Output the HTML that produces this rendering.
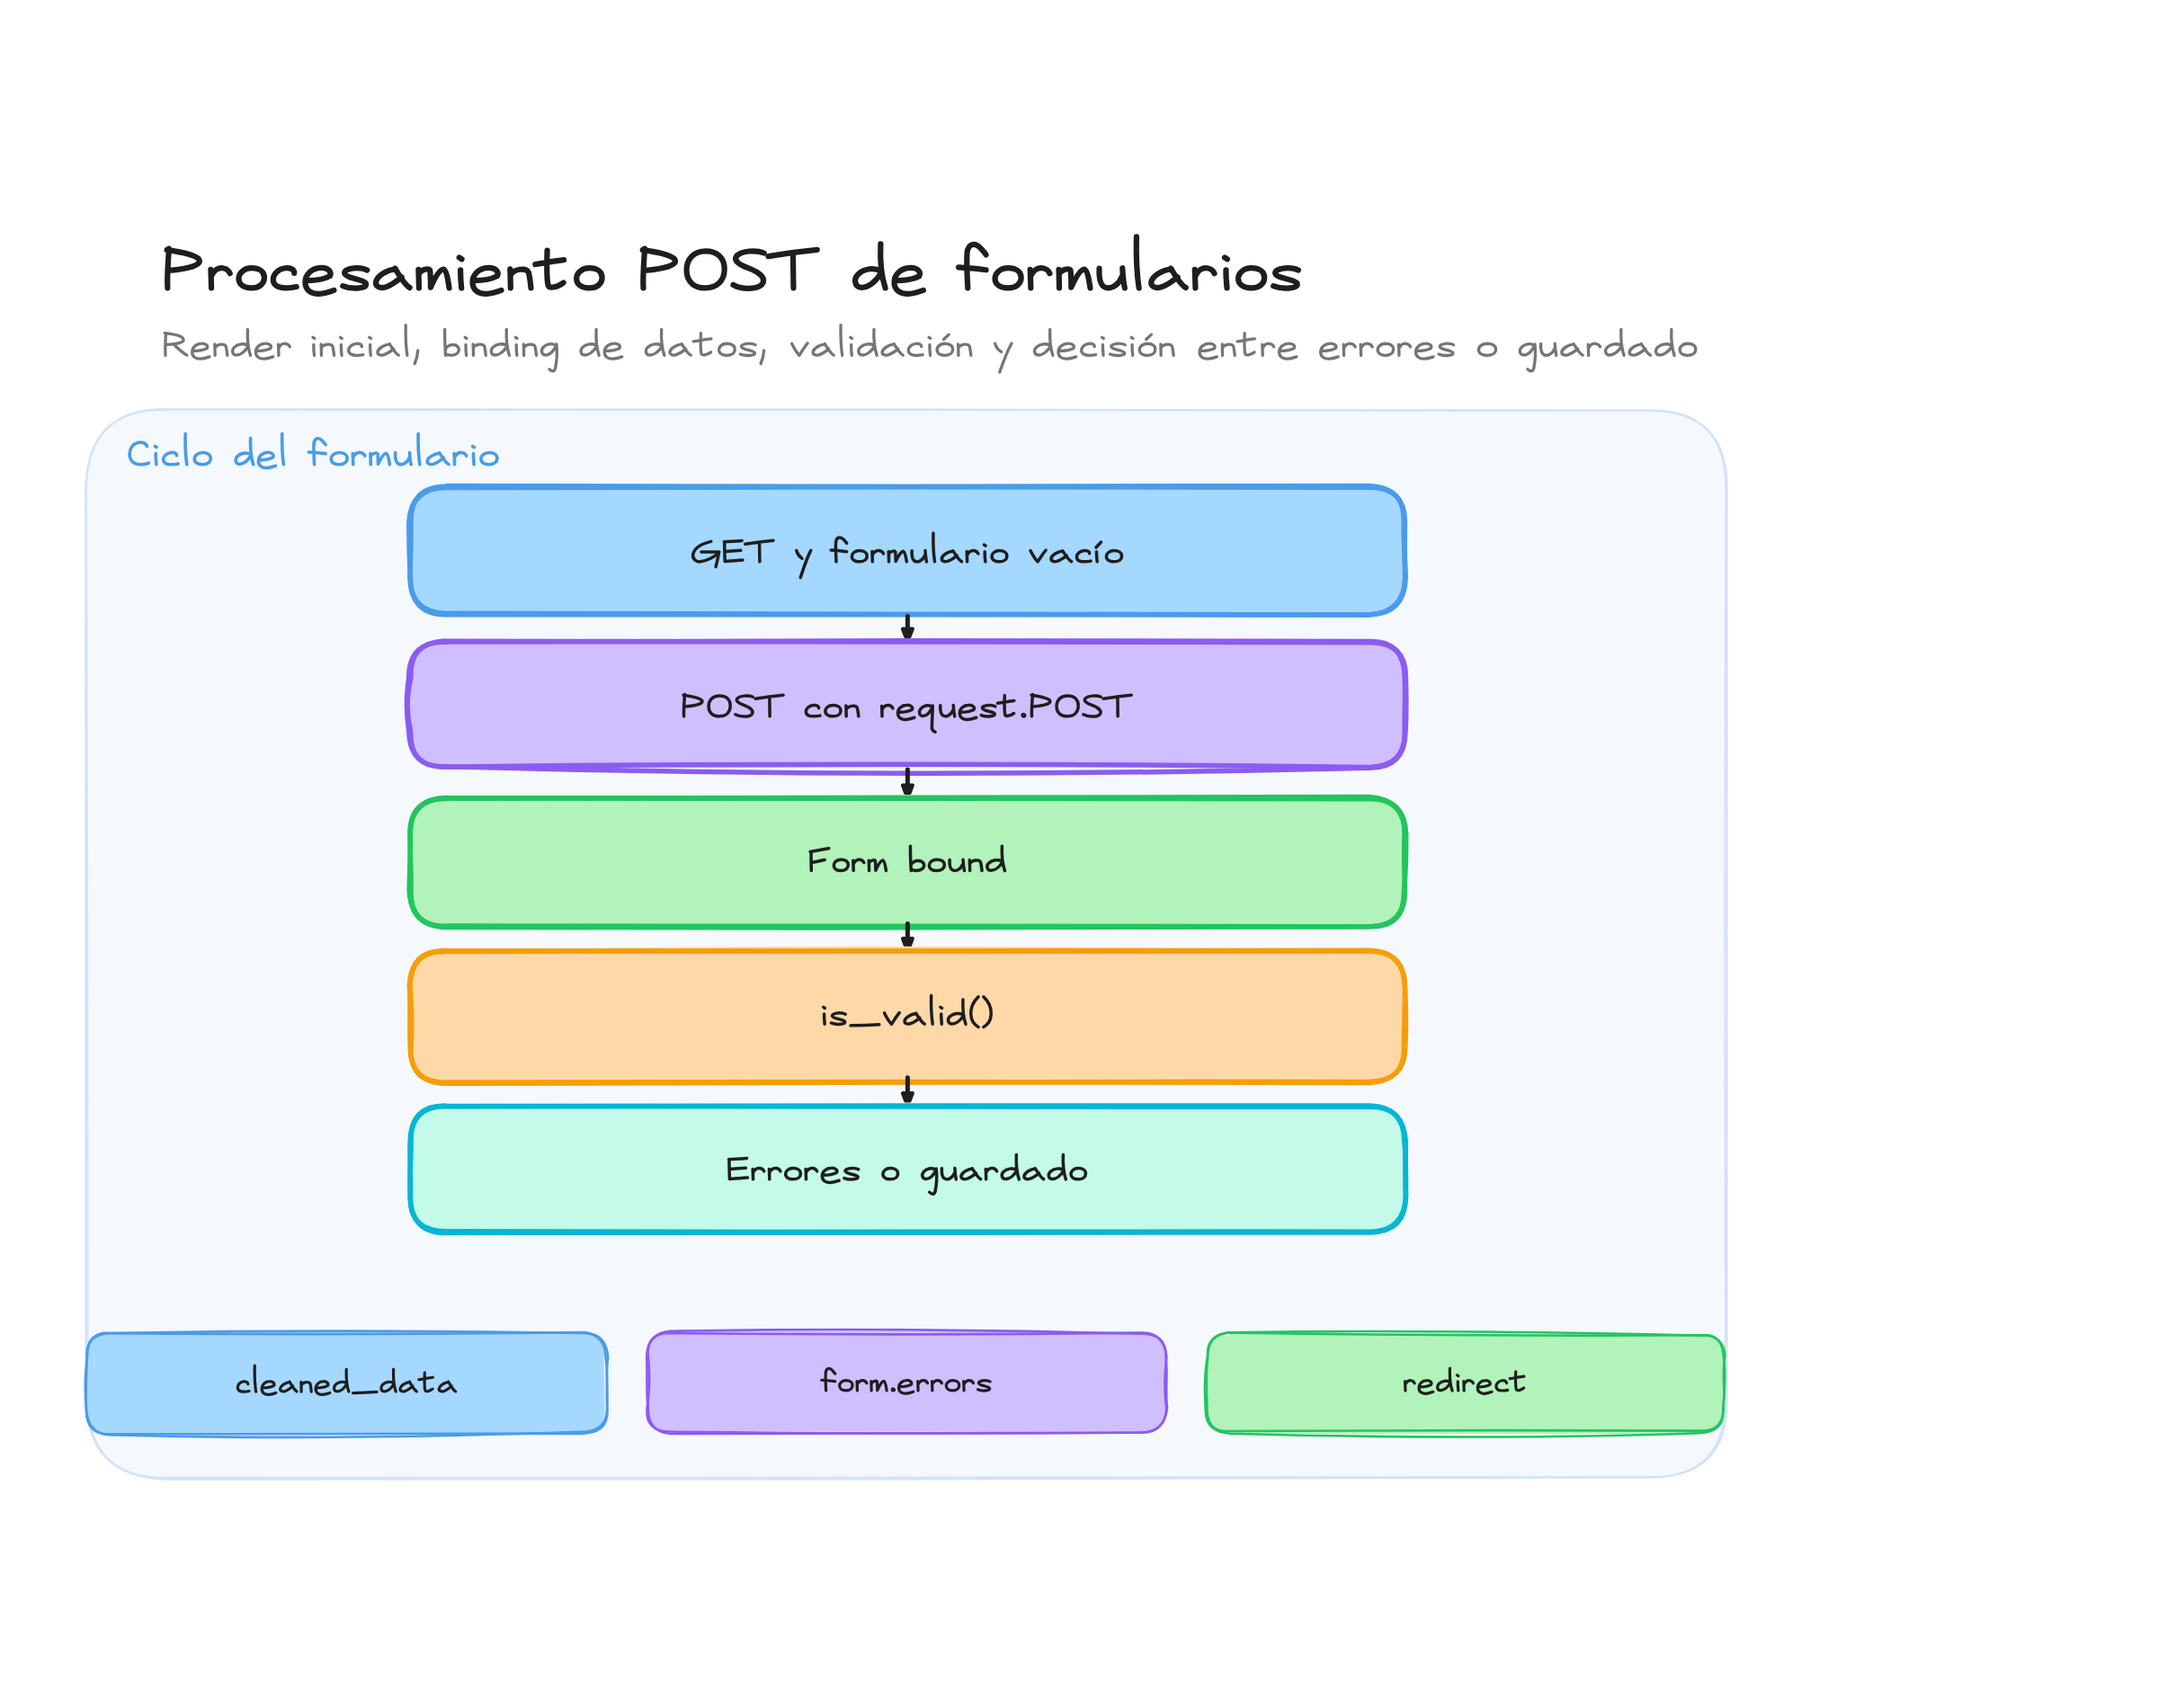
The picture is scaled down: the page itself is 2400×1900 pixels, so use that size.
<!DOCTYPE html>
<html><head><meta charset="utf-8"><style>
html,body{margin:0;padding:0;background:#ffffff;width:2400px;height:1900px;overflow:hidden}
svg{display:block}
text{font-family:"Liberation Sans", sans-serif;white-space:pre}
</style></head><body>
<svg width="2400" height="1900" viewBox="0 0 2400 1900">
<path d="M184.9,455.8 L1832.5,455.9 Q1920.5,455.9 1920.2,543.8 L1920.6,1556.3 Q1920.1,1643.8 1832.1,1644.3 L184.7,1643.5 Q97.0,1644.5 96.7,1556.1 L96.2,543.3 Q96.5,455.4 184.2,455.5 Z" fill="#f5f9fe" stroke="none"/><path d="M183.0,455.7 C732.8,455.5 1282.5,455.2 1832.3,456.9 Q1921.4,455.5 1920.6,544.2 C1919.5,881.7 1920.9,1219.1 1920.5,1556.5 Q1922.0,1645.1 1832.4,1643.3 C1283.6,1645.6 734.9,1645.7 186.1,1645.6 Q97.8,1643.9 97.6,1556.7 C98.5,1218.8 96.2,880.8 95.9,542.9 Q97.4,455.1 182.4,455.9" fill="none" stroke="#d0e3fa" stroke-width="2.2" stroke-linecap="round" stroke-linejoin="round"/><path d="M183.2,455.3 C733.4,454.6 1283.7,455.9 1834.0,456.6 Q1919.6,455.1 1919.3,543.0 C1917.8,880.2 1918.3,1217.4 1919.2,1554.6 Q1919.9,1645.2 1833.5,1643.0 C1283.9,1644.1 734.3,1643.9 184.7,1643.8 Q97.6,1644.5 95.5,1556.7 C94.2,1219.2 96.9,881.8 95.3,544.3 Q97.4,455.3 182.8,455.0" fill="none" stroke="#d0e3fa" stroke-width="2.2" stroke-linecap="round" stroke-linejoin="round"/>
<path d="M497.1,542.3 L1521.1,541.3 Q1563.4,541.2 1563.7,581.6 L1560.8,642.8 Q1560.7,684.7 1524.3,682.3 L495.2,684.1 Q454.8,681.7 454.8,642.4 L456.5,583.4 Q454.8,543.3 496.2,543.1 Z" fill="#a5d8ff" stroke="none"/><path d="M496.8,540.6 C838.8,540.8 1180.9,542.1 1522.9,540.5 Q1562.8,542.1 1561.2,581.2 C1561.0,601.9 1562.5,622.5 1563.2,643.2 Q1562.0,683.2 1521.7,683.9 C1180.2,683.3 838.6,683.3 497.1,682.3 Q456.9,682.6 455.9,643.4 C456.2,622.4 457.5,601.5 457.0,580.5 Q456.4,540.9 497.2,541.0" fill="none" stroke="#4a9be9" stroke-width="5.5" stroke-linecap="round" stroke-linejoin="round"/><path d="M496.9,542.6 C839.0,541.5 1181.0,541.7 1523.1,542.2 Q1562.8,541.9 1562.5,581.5 C1561.8,601.7 1562.4,621.9 1562.7,642.1 Q1562.1,681.7 1523.0,683.9 C1180.3,685.1 837.7,684.7 495.1,683.7 Q456.1,683.6 456.5,642.0 C455.0,622.0 455.0,601.8 454.8,581.7 Q456.6,541.8 497.4,542.5" fill="none" stroke="#4a9be9" stroke-width="5.5" stroke-linecap="round" stroke-linejoin="round"/>
<path d="M1009.4,685.5 L1009.4,700.5" stroke="#1e1e1e" stroke-width="5" stroke-linecap="round" fill="none"/>
<path d="M1003.9,699.5 L1014.9,699.5 L1011.7,708.0 L1007.1,708.0 Z" fill="#1e1e1e" stroke="#1e1e1e" stroke-width="4" stroke-linejoin="round"/>
<path d="M497.9,715.4 L1522.8,712.5 Q1562.4,714.4 1561.4,752.6 L1561.7,814.3 Q1561.3,855.4 1520.8,852.3 L494.4,854.6 Q455.5,853.4 455.3,814.0 L455.6,752.5 Q455.7,712.9 494.4,715.0 Z" fill="#d0bfff" stroke="none"/><path d="M496.5,714.1 C838.8,712.8 1181.2,712.2 1523.5,713.4 Q1561.7,712.6 1562.2,753.5 C1563.3,773.6 1561.6,793.8 1562.3,813.9 Q1563.1,853.1 1521.2,853.4 C1179.5,849.3 837.8,849.2 496.1,853.1 Q456.0,854.5 454.8,814.0 C451.7,794.0 451.7,773.9 454.7,753.9 Q454.7,712.6 496.7,714.3" fill="none" stroke="#8b5cf1" stroke-width="5.5" stroke-linecap="round" stroke-linejoin="round"/><path d="M494.8,713.3 C837.7,715.0 1180.7,713.1 1523.7,714.7 Q1563.7,714.7 1563.4,752.7 C1563.8,773.2 1564.5,793.7 1563.0,814.2 Q1562.6,854.0 1523.3,854.3 C1180.5,862.7 837.8,862.2 495.1,852.7 Q455.4,854.3 456.8,814.1 C451.8,793.9 451.9,773.7 457.0,753.6 Q455.0,715.0 494.5,713.0" fill="none" stroke="#8b5cf1" stroke-width="5.5" stroke-linecap="round" stroke-linejoin="round"/>
<path d="M1009.4,856.0 L1009.4,874.5" stroke="#1e1e1e" stroke-width="5" stroke-linecap="round" fill="none"/>
<path d="M1003.9,873.5 L1014.9,873.5 L1011.7,882.0 L1007.1,882.0 Z" fill="#1e1e1e" stroke="#1e1e1e" stroke-width="4" stroke-linejoin="round"/>
<path d="M494.7,888.6 L1521.1,888.2 Q1562.9,887.2 1563.0,928.0 L1560.7,991.1 Q1563.0,1031.1 1524.0,1031.9 L495.5,1029.9 Q454.5,1032.2 456.8,991.4 L455.8,927.7 Q454.9,887.8 494.6,888.2 Z" fill="#b2f2bb" stroke="none"/><path d="M496.3,888.1 C838.2,887.8 1180.0,887.0 1521.8,886.6 Q1562.9,888.7 1562.1,928.2 C1561.2,949.3 1561.9,970.5 1562.5,991.6 Q1562.4,1032.2 1522.3,1030.7 C1180.6,1030.7 838.8,1029.9 497.1,1030.1 Q457.0,1031.5 455.2,991.2 C455.3,970.0 456.8,948.8 456.3,927.5 Q456.3,887.8 496.4,888.6" fill="none" stroke="#22c55e" stroke-width="5.5" stroke-linecap="round" stroke-linejoin="round"/><path d="M497.2,887.8 C838.9,887.2 1180.6,888.2 1522.2,888.8 Q1561.6,887.6 1563.7,926.8 C1563.8,948.6 1563.5,970.3 1561.4,991.9 Q1562.2,1030.1 1523.5,1030.7 C1180.8,1032.2 838.1,1032.3 495.4,1031.5 Q455.8,1030.5 457.1,990.3 C457.4,969.5 456.0,948.8 455.9,928.1 Q455.5,888.3 497.0,887.4" fill="none" stroke="#22c55e" stroke-width="5.5" stroke-linecap="round" stroke-linejoin="round"/>
<path d="M1009.4,1027.5 L1009.4,1045.0" stroke="#1e1e1e" stroke-width="5" stroke-linecap="round" fill="none"/>
<path d="M1003.9,1044.0 L1014.9,1044.0 L1011.7,1052.5 L1007.1,1052.5 Z" fill="#1e1e1e" stroke="#1e1e1e" stroke-width="4" stroke-linejoin="round"/>
<path d="M496.9,1058.4 Q859.2,1047.5 1524.4,1057.3 Q1561.4,1055.8 1562.9,1096.0 L1562.0,1165.6 Q1564.0,1202.5 1520.8,1202.9 L497.3,1202.1 Q454.9,1202.4 454.5,1164.1 L454.7,1097.1 Q456.9,1058.4 495.7,1058.6 Z" fill="#ffd8a8" stroke="none"/><path d="M496.2,1058.4 C838.1,1057.3 1180.0,1057.5 1521.8,1057.2 Q1561.6,1057.3 1562.7,1098.7 C1563.5,1120.4 1564.1,1142.2 1562.8,1163.9 Q1563.6,1203.0 1521.9,1203.4 C1179.7,1203.0 837.5,1204.0 495.3,1205.3 Q454.9,1204.0 457.0,1165.0 C458.3,1142.7 457.9,1120.3 456.1,1098.0 Q456.5,1057.0 496.3,1058.6" fill="none" stroke="#f59e0b" stroke-width="5.5" stroke-linecap="round" stroke-linejoin="round"/><path d="M496.1,1057.8 C838.2,1058.2 1180.2,1058.6 1522.2,1058.3 Q1562.2,1057.4 1562.4,1098.1 C1562.6,1120.1 1561.5,1142.0 1561.4,1163.9 Q1563.0,1203.6 1521.3,1204.4 C1179.9,1203.7 838.4,1203.1 497.0,1204.1 Q456.1,1205.2 456.2,1164.3 C455.3,1142.0 456.9,1119.6 455.3,1097.2 Q456.8,1056.3 495.8,1057.6" fill="none" stroke="#f59e0b" stroke-width="5.5" stroke-linecap="round" stroke-linejoin="round"/>
<path d="M1009.4,1198.7 L1009.4,1217.0" stroke="#1e1e1e" stroke-width="5" stroke-linecap="round" fill="none"/>
<path d="M1003.9,1216.0 L1014.9,1216.0 L1011.7,1224.5 L1007.1,1224.5 Z" fill="#1e1e1e" stroke="#1e1e1e" stroke-width="4" stroke-linejoin="round"/>
<path d="M496.9,1229.3 L1524.3,1231.9 Q1561.8,1231.3 1563.7,1268.5 L1561.2,1332.6 Q1561.0,1371.6 1521.8,1371.6 L497.4,1371.3 Q455.6,1370.3 456.5,1331.5 L455.6,1270.3 Q456.1,1229.4 494.7,1230.7 Z" fill="#c3fae8" stroke="none"/><path d="M495.0,1230.7 C837.7,1232.2 1180.5,1232.6 1523.3,1231.3 Q1561.7,1230.5 1561.9,1270.2 C1563.9,1290.3 1563.4,1310.5 1563.6,1330.6 Q1561.6,1370.1 1523.8,1370.2 C1181.5,1369.7 839.2,1371.3 496.9,1369.8 Q455.1,1369.7 456.4,1331.8 C457.3,1311.4 455.4,1291.1 456.1,1270.7 Q456.6,1230.7 494.5,1230.8" fill="none" stroke="#06b6d4" stroke-width="5.5" stroke-linecap="round" stroke-linejoin="round"/><path d="M496.1,1230.5 C838.4,1230.2 1180.8,1229.9 1523.1,1229.9 Q1561.4,1230.6 1563.4,1270.9 C1563.1,1291.3 1562.4,1311.6 1563.4,1332.0 Q1562.8,1370.5 1523.4,1371.0 C1180.9,1371.0 838.5,1370.0 496.1,1371.6 Q456.4,1371.9 456.2,1329.8 C454.9,1309.7 457.4,1289.7 457.1,1269.6 Q455.6,1229.6 495.8,1230.1" fill="none" stroke="#06b6d4" stroke-width="5.5" stroke-linecap="round" stroke-linejoin="round"/>
<path d="M122.8,1481.4 L645.8,1481.7 Q676.7,1482.1 671.6,1509.1 L672.5,1565.6 Q673.2,1594.3 646.7,1596.6 L120.3,1595.7 Q94.6,1592.1 95.1,1569.6 L95.4,1510.4 Q93.2,1481.3 119.3,1483.5 Z" fill="#a5d8ff" stroke="none"/><path d="M122.8,1483.1 C298.4,1484.8 474.0,1484.4 649.7,1482.1 Q673.7,1484.9 673.5,1510.1 C676.7,1529.8 673.5,1549.8 675.5,1569.6 Q675.9,1594.7 647.2,1594.6 C471.7,1594.9 296.1,1595.1 120.6,1595.4 Q96.6,1595.3 95.8,1569.2 C95.0,1549.9 96.4,1530.6 96.5,1511.2 Q94.8,1484.1 122.1,1483.1" fill="none" stroke="#4a9be9" stroke-width="2.6" stroke-linecap="round" stroke-linejoin="round"/><path d="M119.8,1483.3 C295.6,1479.2 471.3,1480.1 647.1,1482.9 Q674.3,1481.9 676.2,1510.4 C673.1,1529.6 676.8,1548.8 675.0,1568.0 Q674.1,1592.8 647.1,1592.8 C472.0,1599.0 296.8,1601.1 121.7,1596.2 Q97.2,1594.9 96.3,1567.5 C93.7,1547.8 94.6,1528.1 97.2,1508.5 Q96.6,1483.3 119.2,1482.6" fill="none" stroke="#4a9be9" stroke-width="2.6" stroke-linecap="round" stroke-linejoin="round"/>
<path d="M742.5,1481.2 L1267.9,1481.5 Q1298.0,1483.7 1296.3,1510.0 L1296.2,1569.7 Q1297.2,1591.3 1270.9,1593.4 L745.7,1591.8 Q720.7,1591.6 718.3,1565.9 L718.1,1506.6 Q721.0,1483.5 742.7,1483.0 Z" fill="#d0bfff" stroke="none"/><path d="M744.0,1483.0 C919.4,1484.9 1094.8,1484.8 1270.2,1482.6 Q1294.7,1482.2 1297.4,1509.5 C1295.2,1528.6 1294.4,1547.7 1297.2,1566.8 Q1296.5,1592.6 1269.0,1593.8 C1094.6,1593.2 920.1,1593.5 745.6,1594.9 Q720.2,1592.9 720.9,1566.4 C718.3,1547.4 720.3,1528.3 719.2,1509.3 Q719.8,1482.8 744.4,1483.0" fill="none" stroke="#8b5cf1" stroke-width="2.6" stroke-linecap="round" stroke-linejoin="round"/><path d="M745.6,1480.7 C920.4,1477.8 1095.2,1478.8 1270.0,1483.8 Q1298.1,1484.2 1296.5,1509.5 C1299.2,1528.2 1295.6,1547.1 1298.1,1565.8 Q1295.1,1592.9 1271.3,1593.5 C1095.4,1595.1 919.6,1594.8 743.7,1592.5 Q717.8,1591.7 719.5,1567.4 C723.0,1547.6 722.7,1527.8 720.8,1508.0 Q718.8,1483.2 746.3,1480.5" fill="none" stroke="#8b5cf1" stroke-width="2.6" stroke-linecap="round" stroke-linejoin="round"/>
<path d="M1367.0,1482.2 L1893.1,1484.9 Q1918.6,1486.8 1917.1,1512.1 L1914.7,1567.2 Q1915.7,1593.0 1892.2,1595.1 L1367.6,1595.2 Q1340.5,1590.8 1341.3,1568.3 L1342.7,1507.2 Q1340.0,1482.5 1367.3,1486.2 Z" fill="#b2f2bb" stroke="none"/><path d="M1366.7,1482.4 C1542.1,1485.4 1717.5,1486.3 1892.9,1485.3 Q1916.8,1485.3 1918.5,1508.3 C1914.7,1527.4 1918.9,1546.7 1916.6,1565.8 Q1917.0,1591.4 1893.0,1591.6 C1717.4,1590.8 1541.8,1590.9 1366.2,1592.0 Q1341.6,1593.3 1342.5,1565.9 C1341.8,1547.0 1340.8,1528.2 1343.2,1509.3 Q1340.9,1485.7 1366.8,1482.1" fill="none" stroke="#22c55e" stroke-width="2.6" stroke-linecap="round" stroke-linejoin="round"/><path d="M1367.8,1482.3 C1543.0,1479.4 1718.1,1481.5 1893.1,1485.7 Q1916.2,1482.4 1917.1,1511.7 C1919.9,1530.7 1917.4,1549.6 1916.1,1568.5 Q1918.0,1592.9 1890.3,1594.3 C1716.3,1600.4 1542.2,1599.5 1368.1,1594.7 Q1340.1,1593.2 1340.8,1567.6 C1339.4,1547.8 1339.2,1528.2 1343.1,1508.7 Q1343.2,1484.0 1367.2,1482.5" fill="none" stroke="#22c55e" stroke-width="2.6" stroke-linecap="round" stroke-linejoin="round"/>
<g transform="translate(182.32,320.40) scale(0.07121,0.07200)" fill="none" stroke="#1e1e1e" stroke-width="6.20" stroke-linecap="round" stroke-linejoin="round"><path transform="translate(46,0) scale(1.0690,1) translate(-0.0,0)" d="M30,-608 C20,-400 0,-200 10,0 M0,-590 C180,-560 420,-520 470,-440 C510,-350 320,-300 30,-270" vector-effect="non-scaling-stroke"/><path transform="translate(731,0) scale(1.0000,1) translate(-0.0,0)" d="M0,-285C5,-184,8,-92,10,0M8,-184C50,-276,120,-319,190,-308C250,-299,285,-262,300,-225" vector-effect="non-scaling-stroke"/><path transform="translate(1168,0) scale(1.0000,1) translate(-0.0,0)" d="M200,-308C80,-308,0,-230,0,-147C0,-55,80,0,195,0C320,0,400,-64,400,-161C400,-253,320,-308,200,-308Z" vector-effect="non-scaling-stroke"/><path transform="translate(1705,0) scale(1.0000,1) translate(-0.0,0)" d="M330,-230C335,-290,260,-319,185,-308C75,-294,0,-211,0,-129C0,-41,85,0,200,0C260,0,310,-5,364,-18" vector-effect="non-scaling-stroke"/><path transform="translate(2206,0) scale(1.0000,1) translate(-0.0,0)" d="M30,-115C150,-115,300,-138,385,-184C425,-257,345,-319,245,-313C105,-308,0,-211,0,-92C0,40,100,95,220,90C300,85,380,60,450,35" vector-effect="non-scaling-stroke"/><path transform="translate(2793,0) scale(1.0556,1) translate(-5.0,0)" d="M365,-276C290,-319,150,-324,60,-276C0,-239,35,-193,115,-165L280,-115C385,-78,375,-14,245,0C160,10,80,0,5,-32" vector-effect="non-scaling-stroke"/><path transform="translate(3310,0) scale(1.0128,1) translate(-6.7,0)" d="M310,-294C180,-280,30,-193,8,-97C-5,-23,70,10,150,-11C240,-37,330,-106,405,-170M300,-303C380,-184,440,-55,528,-5" vector-effect="non-scaling-stroke"/><path transform="translate(3975,0) scale(1.0000,1) translate(-0.0,0)" d="M0,-285C5,-193,5,-92,8,0M8,-221C45,-285,150,-313,180,-276C190,-184,190,-92,190,-9C235,-110,320,-285,390,-290C435,-276,460,-138,480,0" vector-effect="non-scaling-stroke"/><path transform="translate(4612,0) scale(1.0000,1) translate(-0.0,0)" d="M20,-280C18,-184,25,-92,35,0M0,-472L40,-446" vector-effect="non-scaling-stroke"/><path transform="translate(4819,0) scale(1.0000,1) translate(-0.0,0)" d="M30,-115C150,-115,300,-138,385,-184C425,-257,345,-319,245,-313C105,-308,0,-211,0,-92C0,40,100,95,220,90C300,85,380,60,450,35" vector-effect="non-scaling-stroke"/><path transform="translate(5406,0) scale(1.0000,1) translate(-0.0,0)" d="M0,-294C5,-202,5,-92,8,0M8,-202C60,-294,250,-324,290,-239C310,-156,318,-74,326,0" vector-effect="non-scaling-stroke"/><path transform="translate(5799,0) scale(1.0000,1) translate(-0.0,0)" d="M187,-582C180,-377,180,-138,200,-46C215,10,330,0,440,-83M0,-366C150,-387,300,-419,447,-435" vector-effect="non-scaling-stroke"/><path transform="translate(6443,0) scale(1.0000,1) translate(-0.0,0)" d="M200,-308C80,-308,0,-230,0,-147C0,-55,80,0,195,0C320,0,400,-64,400,-161C400,-253,320,-308,200,-308Z" vector-effect="non-scaling-stroke"/></g>
<g transform="translate(711.42,320.40) scale(0.07138,0.07200)" fill="none" stroke="#1e1e1e" stroke-width="6.20" stroke-linecap="round" stroke-linejoin="round"><path transform="translate(46,0) scale(1.0690,1) translate(-0.0,0)" d="M30,-608 C20,-400 0,-200 10,0 M0,-590 C180,-560 420,-520 470,-440 C510,-350 320,-300 30,-270" vector-effect="non-scaling-stroke"/><path transform="translate(731,0) scale(1.0000,1) translate(-0.0,0)" d="M295,-570 C115,-570 0,-450 0,-280 C0,-100 115,0 285,0 C470,0 590,-110 590,-295 C590,-470 470,-570 295,-570 Z" vector-effect="non-scaling-stroke"/><path transform="translate(1458,0) scale(1.0301,1) translate(-0.0,0)" d="M465,-540 C350,-590 130,-580 50,-495 C0,-425 90,-360 225,-310 C405,-240 505,-150 435,-55 C355,30 110,20 0,-50" vector-effect="non-scaling-stroke"/><path transform="translate(2004,0) scale(1.0000,1) translate(-0.0,0)" d="M0,-490 C240,-530 500,-565 760,-590 M385,-545 C388,-360 388,-180 392,0" vector-effect="non-scaling-stroke"/></g>
<g transform="translate(947.79,320.40) scale(0.07205,0.07200)" fill="none" stroke="#1e1e1e" stroke-width="6.20" stroke-linecap="round" stroke-linejoin="round"><path transform="translate(46,0) scale(1.0401,1) translate(-17.9,0)" d="M390,-267C300,-319,150,-303,60,-211C-10,-138,10,-18,100,-9C210,0,330,-101,400,-230M395,-682C385,-440,400,-202,465,0" vector-effect="non-scaling-stroke"/><path transform="translate(648,0) scale(1.0000,1) translate(-0.0,0)" d="M30,-115C150,-115,300,-138,385,-184C425,-257,345,-319,245,-313C105,-308,0,-211,0,-92C0,40,100,95,220,90C300,85,380,60,450,35" vector-effect="non-scaling-stroke"/></g>
<g transform="translate(1062.75,320.40) scale(0.07285,0.07200)" fill="none" stroke="#1e1e1e" stroke-width="6.20" stroke-linecap="round" stroke-linejoin="round"><path transform="translate(46,0) scale(1.0000,1) translate(-0.0,0)" d="M140,0C130,-184,120,-409,130,-546C145,-684,240,-705,320,-631C360,-589,390,-557,418,-514M0,-319C130,-313,270,-299,418,-280" vector-effect="non-scaling-stroke"/><path transform="translate(601,0) scale(1.0000,1) translate(-0.0,0)" d="M200,-308C80,-308,0,-230,0,-147C0,-55,80,0,195,0C320,0,400,-64,400,-161C400,-253,320,-308,200,-308Z" vector-effect="non-scaling-stroke"/><path transform="translate(1138,0) scale(1.0000,1) translate(-0.0,0)" d="M0,-285C5,-184,8,-92,10,0M8,-184C50,-276,120,-319,190,-308C250,-299,285,-262,300,-225" vector-effect="non-scaling-stroke"/><path transform="translate(1575,0) scale(1.0000,1) translate(-0.0,0)" d="M0,-285C5,-193,5,-92,8,0M8,-221C45,-285,150,-313,180,-276C190,-184,190,-92,190,-9C235,-110,320,-285,390,-290C435,-276,460,-138,480,0" vector-effect="non-scaling-stroke"/><path transform="translate(2192,0) scale(0.9963,1) translate(1.4,0)" d="M0,-303C-5,-202,0,-83,60,-28C140,35,290,-18,350,-184M355,-308C360,-202,370,-92,390,0" vector-effect="non-scaling-stroke"/><path transform="translate(2759,0) scale(1.5078,1) translate(-8.5,0)" d="M10,-794C5,-483,12,-230,35,0" vector-effect="non-scaling-stroke"/><path transform="translate(2986,0) scale(1.0128,1) translate(-6.7,0)" d="M310,-294C180,-280,30,-193,8,-97C-5,-23,70,10,150,-11C240,-37,330,-106,405,-170M300,-303C380,-184,440,-55,528,-5" vector-effect="non-scaling-stroke"/><path transform="translate(3651,0) scale(1.0000,1) translate(-0.0,0)" d="M0,-285C5,-184,8,-92,10,0M8,-184C50,-276,120,-319,190,-308C250,-299,285,-262,300,-225" vector-effect="non-scaling-stroke"/><path transform="translate(4108,0) scale(1.0000,1) translate(-0.0,0)" d="M20,-280C18,-184,25,-92,35,0M0,-472L40,-446" vector-effect="non-scaling-stroke"/><path transform="translate(4315,0) scale(1.0000,1) translate(-0.0,0)" d="M200,-308C80,-308,0,-230,0,-147C0,-55,80,0,195,0C320,0,400,-64,400,-161C400,-253,320,-308,200,-308Z" vector-effect="non-scaling-stroke"/><path transform="translate(4852,0) scale(1.0556,1) translate(-5.0,0)" d="M365,-276C290,-319,150,-324,60,-276C0,-239,35,-193,115,-165L280,-115C385,-78,375,-14,245,0C160,10,80,0,5,-32" vector-effect="non-scaling-stroke"/></g>
<g transform="translate(181.38,395.35) scale(0.04280,0.04250)" fill="none" stroke="#757575" stroke-width="3.30" stroke-linecap="round" stroke-linejoin="round"><path transform="translate(46,0) scale(1.0000,1) translate(-0.0,0)" d="M25,-580 C15,-390 5,-200 15,0 M0,-580 C200,-560 440,-520 480,-430 C515,-340 330,-300 30,-280 M230,-290 C330,-190 440,-80 572,-5" vector-effect="non-scaling-stroke"/><path transform="translate(755,0) scale(1.0000,1) translate(-0.0,0)" d="M30,-115C150,-115,300,-138,385,-184C425,-257,345,-319,245,-313C105,-308,0,-211,0,-92C0,40,100,95,220,90C300,85,380,60,450,35" vector-effect="non-scaling-stroke"/><path transform="translate(1342,0) scale(1.0000,1) translate(-0.0,0)" d="M0,-294C5,-202,5,-92,8,0M8,-202C60,-294,250,-324,290,-239C310,-156,318,-74,326,0" vector-effect="non-scaling-stroke"/><path transform="translate(1805,0) scale(1.0401,1) translate(-17.9,0)" d="M390,-267C300,-319,150,-303,60,-211C-10,-138,10,-18,100,-9C210,0,330,-101,400,-230M395,-682C385,-440,400,-202,465,0" vector-effect="non-scaling-stroke"/><path transform="translate(2407,0) scale(1.0000,1) translate(-0.0,0)" d="M30,-115C150,-115,300,-138,385,-184C425,-257,345,-319,245,-313C105,-308,0,-211,0,-92C0,40,100,95,220,90C300,85,380,60,450,35" vector-effect="non-scaling-stroke"/><path transform="translate(2994,0) scale(1.0000,1) translate(-0.0,0)" d="M0,-285C5,-184,8,-92,10,0M8,-184C50,-276,120,-319,190,-308C250,-299,285,-262,300,-225" vector-effect="non-scaling-stroke"/></g>
<g transform="translate(345.91,395.35) scale(0.04429,0.04250)" fill="none" stroke="#757575" stroke-width="3.30" stroke-linecap="round" stroke-linejoin="round"><path transform="translate(46,0) scale(1.0000,1) translate(-0.0,0)" d="M20,-280C18,-184,25,-92,35,0M0,-472L40,-446" vector-effect="non-scaling-stroke"/><path transform="translate(253,0) scale(1.0000,1) translate(-0.0,0)" d="M0,-294C5,-202,5,-92,8,0M8,-202C60,-294,250,-324,290,-239C310,-156,318,-74,326,0" vector-effect="non-scaling-stroke"/><path transform="translate(736,0) scale(1.0000,1) translate(-0.0,0)" d="M20,-280C18,-184,25,-92,35,0M0,-472L40,-446" vector-effect="non-scaling-stroke"/><path transform="translate(943,0) scale(1.0000,1) translate(-0.0,0)" d="M330,-230C335,-290,260,-319,185,-308C75,-294,0,-211,0,-129C0,-41,85,0,200,0C260,0,310,-5,364,-18" vector-effect="non-scaling-stroke"/><path transform="translate(1464,0) scale(1.0000,1) translate(-0.0,0)" d="M20,-280C18,-184,25,-92,35,0M0,-472L40,-446" vector-effect="non-scaling-stroke"/><path transform="translate(1671,0) scale(1.0128,1) translate(-6.7,0)" d="M310,-294C180,-280,30,-193,8,-97C-5,-23,70,10,150,-11C240,-37,330,-106,405,-170M300,-303C380,-184,440,-55,528,-5" vector-effect="non-scaling-stroke"/><path transform="translate(2376,0) scale(1.5078,1) translate(-8.5,0)" d="M10,-794C5,-483,12,-230,35,0" vector-effect="non-scaling-stroke"/><path transform="translate(2603,0) scale(1.0000,1) translate(-0.0,0)" d="M80,-126 C72,-10 45,110 0,215" vector-effect="non-scaling-stroke"/></g>
<g transform="translate(492.65,395.35) scale(0.04349,0.04250)" fill="none" stroke="#757575" stroke-width="3.30" stroke-linecap="round" stroke-linejoin="round"><path transform="translate(46,0) scale(1.0460,1) translate(-10.0,0)" d="M10,-682C10,-430,15,-202,30,0M25,-156C80,-285,260,-324,340,-211C385,-120,320,-9,190,-5C110,0,60,-14,25,-37" vector-effect="non-scaling-stroke"/><path transform="translate(563,0) scale(1.0000,1) translate(-0.0,0)" d="M20,-280C18,-184,25,-92,35,0M0,-472L40,-446" vector-effect="non-scaling-stroke"/><path transform="translate(770,0) scale(1.0000,1) translate(-0.0,0)" d="M0,-294C5,-202,5,-92,8,0M8,-202C60,-294,250,-324,290,-239C310,-156,318,-74,326,0" vector-effect="non-scaling-stroke"/><path transform="translate(1233,0) scale(1.0401,1) translate(-17.9,0)" d="M390,-267C300,-319,150,-303,60,-211C-10,-138,10,-18,100,-9C210,0,330,-101,400,-230M395,-682C385,-440,400,-202,465,0" vector-effect="non-scaling-stroke"/><path transform="translate(1855,0) scale(1.0000,1) translate(-0.0,0)" d="M20,-280C18,-184,25,-92,35,0M0,-472L40,-446" vector-effect="non-scaling-stroke"/><path transform="translate(2062,0) scale(1.0000,1) translate(-0.0,0)" d="M0,-294C5,-202,5,-92,8,0M8,-202C60,-294,250,-324,290,-239C310,-156,318,-74,326,0" vector-effect="non-scaling-stroke"/><path transform="translate(2525,0) scale(1.1135,1) translate(-25.8,0)" d="M330,-276C250,-324,130,-303,60,-211C0,-129,20,-18,110,-9C210,0,320,-129,360,-276M365,-294C380,-138,380,100,340,330C320,420,280,440,200,360" vector-effect="non-scaling-stroke"/></g>
<g transform="translate(644.05,395.35) scale(0.04344,0.04250)" fill="none" stroke="#757575" stroke-width="3.30" stroke-linecap="round" stroke-linejoin="round"><path transform="translate(46,0) scale(1.0401,1) translate(-17.9,0)" d="M390,-267C300,-319,150,-303,60,-211C-10,-138,10,-18,100,-9C210,0,330,-101,400,-230M395,-682C385,-440,400,-202,465,0" vector-effect="non-scaling-stroke"/><path transform="translate(648,0) scale(1.0000,1) translate(-0.0,0)" d="M30,-115C150,-115,300,-138,385,-184C425,-257,345,-319,245,-313C105,-308,0,-211,0,-92C0,40,100,95,220,90C300,85,380,60,450,35" vector-effect="non-scaling-stroke"/></g>
<g transform="translate(716.32,395.35) scale(0.04413,0.04250)" fill="none" stroke="#757575" stroke-width="3.30" stroke-linecap="round" stroke-linejoin="round"><path transform="translate(46,0) scale(1.0401,1) translate(-17.9,0)" d="M390,-267C300,-319,150,-303,60,-211C-10,-138,10,-18,100,-9C210,0,330,-101,400,-230M395,-682C385,-440,400,-202,465,0" vector-effect="non-scaling-stroke"/><path transform="translate(648,0) scale(1.0128,1) translate(-6.7,0)" d="M310,-294C180,-280,30,-193,8,-97C-5,-23,70,10,150,-11C240,-37,330,-106,405,-170M300,-303C380,-184,440,-55,528,-5" vector-effect="non-scaling-stroke"/><path transform="translate(1243,0) scale(1.0000,1) translate(-0.0,0)" d="M187,-582C180,-377,180,-138,200,-46C215,10,330,0,440,-83M0,-366C150,-387,300,-419,447,-435" vector-effect="non-scaling-stroke"/><path transform="translate(1887,0) scale(1.0000,1) translate(-0.0,0)" d="M200,-308C80,-308,0,-230,0,-147C0,-55,80,0,195,0C320,0,400,-64,400,-161C400,-253,320,-308,200,-308Z" vector-effect="non-scaling-stroke"/><path transform="translate(2424,0) scale(1.0556,1) translate(-5.0,0)" d="M365,-276C290,-319,150,-324,60,-276C0,-239,35,-193,115,-165L280,-115C385,-78,375,-14,245,0C160,10,80,0,5,-32" vector-effect="non-scaling-stroke"/><path transform="translate(2941,0) scale(1.0000,1) translate(-0.0,0)" d="M80,-126 C72,-10 45,110 0,215" vector-effect="non-scaling-stroke"/></g>
<g transform="translate(878.64,395.35) scale(0.04374,0.04250)" fill="none" stroke="#757575" stroke-width="3.30" stroke-linecap="round" stroke-linejoin="round"><path transform="translate(46,0) scale(1.0000,1) translate(-0.0,0)" d="M0,-308C50,-202,120,-74,190,0C260,-110,320,-221,400,-319" vector-effect="non-scaling-stroke"/><path transform="translate(583,0) scale(1.0128,1) translate(-6.7,0)" d="M310,-294C180,-280,30,-193,8,-97C-5,-23,70,10,150,-11C240,-37,330,-106,405,-170M300,-303C380,-184,440,-55,528,-5" vector-effect="non-scaling-stroke"/><path transform="translate(1288,0) scale(1.5078,1) translate(-8.5,0)" d="M10,-794C5,-483,12,-230,35,0" vector-effect="non-scaling-stroke"/><path transform="translate(1535,0) scale(1.0000,1) translate(-0.0,0)" d="M20,-280C18,-184,25,-92,35,0M0,-472L40,-446" vector-effect="non-scaling-stroke"/><path transform="translate(1742,0) scale(1.0401,1) translate(-17.9,0)" d="M390,-267C300,-319,150,-303,60,-211C-10,-138,10,-18,100,-9C210,0,330,-101,400,-230M395,-682C385,-440,400,-202,465,0" vector-effect="non-scaling-stroke"/><path transform="translate(2344,0) scale(1.0128,1) translate(-6.7,0)" d="M310,-294C180,-280,30,-193,8,-97C-5,-23,70,10,150,-11C240,-37,330,-106,405,-170M300,-303C380,-184,440,-55,528,-5" vector-effect="non-scaling-stroke"/><path transform="translate(3009,0) scale(1.0000,1) translate(-0.0,0)" d="M330,-230C335,-290,260,-319,185,-308C75,-294,0,-211,0,-129C0,-41,85,0,200,0C260,0,310,-5,364,-18" vector-effect="non-scaling-stroke"/><path transform="translate(3530,0) scale(1.0000,1) translate(-0.0,0)" d="M20,-280C18,-184,25,-92,35,0M0,-472L40,-446" vector-effect="non-scaling-stroke"/><path transform="translate(3737,0) scale(1.0000,1) translate(-0.0,0)" d="M200,-308C80,-308,0,-230,0,-147C0,-55,80,0,195,0C320,0,400,-64,400,-161C400,-253,320,-308,200,-308ZM170,-419L300,-546" vector-effect="non-scaling-stroke"/><path transform="translate(4274,0) scale(1.0000,1) translate(-0.0,0)" d="M0,-294C5,-202,5,-92,8,0M8,-202C60,-294,250,-324,290,-239C310,-156,318,-74,326,0" vector-effect="non-scaling-stroke"/></g>
<g transform="translate(1104.37,395.35) scale(0.04744,0.04250)" fill="none" stroke="#757575" stroke-width="3.30" stroke-linecap="round" stroke-linejoin="round"><path transform="translate(46,0) scale(1.0000,1) translate(-0.0,0)" d="M0,-308C25,-221,70,-147,150,-92M390,-313C300,-138,200,150,110,440" vector-effect="non-scaling-stroke"/></g>
<g transform="translate(1148.53,395.35) scale(0.04387,0.04250)" fill="none" stroke="#757575" stroke-width="3.30" stroke-linecap="round" stroke-linejoin="round"><path transform="translate(46,0) scale(1.0401,1) translate(-17.9,0)" d="M390,-267C300,-319,150,-303,60,-211C-10,-138,10,-18,100,-9C210,0,330,-101,400,-230M395,-682C385,-440,400,-202,465,0" vector-effect="non-scaling-stroke"/><path transform="translate(648,0) scale(1.0000,1) translate(-0.0,0)" d="M30,-115C150,-115,300,-138,385,-184C425,-257,345,-319,245,-313C105,-308,0,-211,0,-92C0,40,100,95,220,90C300,85,380,60,450,35" vector-effect="non-scaling-stroke"/><path transform="translate(1235,0) scale(1.0000,1) translate(-0.0,0)" d="M330,-230C335,-290,260,-319,185,-308C75,-294,0,-211,0,-129C0,-41,85,0,200,0C260,0,310,-5,364,-18" vector-effect="non-scaling-stroke"/><path transform="translate(1756,0) scale(1.0000,1) translate(-0.0,0)" d="M20,-280C18,-184,25,-92,35,0M0,-472L40,-446" vector-effect="non-scaling-stroke"/><path transform="translate(1963,0) scale(1.0556,1) translate(-5.0,0)" d="M365,-276C290,-319,150,-324,60,-276C0,-239,35,-193,115,-165L280,-115C385,-78,375,-14,245,0C160,10,80,0,5,-32" vector-effect="non-scaling-stroke"/><path transform="translate(2500,0) scale(1.0000,1) translate(-0.0,0)" d="M20,-280C18,-184,25,-92,35,0M0,-472L40,-446" vector-effect="non-scaling-stroke"/><path transform="translate(2707,0) scale(1.0000,1) translate(-0.0,0)" d="M200,-308C80,-308,0,-230,0,-147C0,-55,80,0,195,0C320,0,400,-64,400,-161C400,-253,320,-308,200,-308ZM170,-419L300,-546" vector-effect="non-scaling-stroke"/><path transform="translate(3244,0) scale(1.0000,1) translate(-0.0,0)" d="M0,-294C5,-202,5,-92,8,0M8,-202C60,-294,250,-324,290,-239C310,-156,318,-74,326,0" vector-effect="non-scaling-stroke"/></g>
<g transform="translate(1332.07,395.35) scale(0.04297,0.04250)" fill="none" stroke="#757575" stroke-width="3.30" stroke-linecap="round" stroke-linejoin="round"><path transform="translate(46,0) scale(1.0000,1) translate(-0.0,0)" d="M30,-115C150,-115,300,-138,385,-184C425,-257,345,-319,245,-313C105,-308,0,-211,0,-92C0,40,100,95,220,90C300,85,380,60,450,35" vector-effect="non-scaling-stroke"/><path transform="translate(633,0) scale(1.0000,1) translate(-0.0,0)" d="M0,-294C5,-202,5,-92,8,0M8,-202C60,-294,250,-324,290,-239C310,-156,318,-74,326,0" vector-effect="non-scaling-stroke"/><path transform="translate(1026,0) scale(1.0000,1) translate(-0.0,0)" d="M187,-582C180,-377,180,-138,200,-46C215,10,330,0,440,-83M0,-366C150,-387,300,-419,447,-435" vector-effect="non-scaling-stroke"/><path transform="translate(1670,0) scale(1.0000,1) translate(-0.0,0)" d="M0,-285C5,-184,8,-92,10,0M8,-184C50,-276,120,-319,190,-308C250,-299,285,-262,300,-225" vector-effect="non-scaling-stroke"/><path transform="translate(2107,0) scale(1.0000,1) translate(-0.0,0)" d="M30,-115C150,-115,300,-138,385,-184C425,-257,345,-319,245,-313C105,-308,0,-211,0,-92C0,40,100,95,220,90C300,85,380,60,450,35" vector-effect="non-scaling-stroke"/></g>
<g transform="translate(1466.65,395.35) scale(0.04350,0.04250)" fill="none" stroke="#757575" stroke-width="3.30" stroke-linecap="round" stroke-linejoin="round"><path transform="translate(46,0) scale(1.0000,1) translate(-0.0,0)" d="M30,-115C150,-115,300,-138,385,-184C425,-257,345,-319,245,-313C105,-308,0,-211,0,-92C0,40,100,95,220,90C300,85,380,60,450,35" vector-effect="non-scaling-stroke"/><path transform="translate(633,0) scale(1.0000,1) translate(-0.0,0)" d="M0,-285C5,-184,8,-92,10,0M8,-184C50,-276,120,-319,190,-308C250,-299,285,-262,300,-225" vector-effect="non-scaling-stroke"/><path transform="translate(1070,0) scale(1.0000,1) translate(-0.0,0)" d="M0,-285C5,-184,8,-92,10,0M8,-184C50,-276,120,-319,190,-308C250,-299,285,-262,300,-225" vector-effect="non-scaling-stroke"/><path transform="translate(1507,0) scale(1.0000,1) translate(-0.0,0)" d="M200,-308C80,-308,0,-230,0,-147C0,-55,80,0,195,0C320,0,400,-64,400,-161C400,-253,320,-308,200,-308Z" vector-effect="non-scaling-stroke"/><path transform="translate(2044,0) scale(1.0000,1) translate(-0.0,0)" d="M0,-285C5,-184,8,-92,10,0M8,-184C50,-276,120,-319,190,-308C250,-299,285,-262,300,-225" vector-effect="non-scaling-stroke"/><path transform="translate(2481,0) scale(1.0000,1) translate(-0.0,0)" d="M30,-115C150,-115,300,-138,385,-184C425,-257,345,-319,245,-313C105,-308,0,-211,0,-92C0,40,100,95,220,90C300,85,380,60,450,35" vector-effect="non-scaling-stroke"/><path transform="translate(3068,0) scale(1.0556,1) translate(-5.0,0)" d="M365,-276C290,-319,150,-324,60,-276C0,-239,35,-193,115,-165L280,-115C385,-78,375,-14,245,0C160,10,80,0,5,-32" vector-effect="non-scaling-stroke"/></g>
<g transform="translate(1642.25,395.35) scale(0.04775,0.04250)" fill="none" stroke="#757575" stroke-width="3.30" stroke-linecap="round" stroke-linejoin="round"><path transform="translate(46,0) scale(1.0000,1) translate(-0.0,0)" d="M200,-308C80,-308,0,-230,0,-147C0,-55,80,0,195,0C320,0,400,-64,400,-161C400,-253,320,-308,200,-308Z" vector-effect="non-scaling-stroke"/></g>
<g transform="translate(1688.32,395.35) scale(0.04420,0.04250)" fill="none" stroke="#757575" stroke-width="3.30" stroke-linecap="round" stroke-linejoin="round"><path transform="translate(46,0) scale(1.1135,1) translate(-25.8,0)" d="M330,-276C250,-324,130,-303,60,-211C0,-129,20,-18,110,-9C210,0,320,-129,360,-276M365,-294C380,-138,380,100,340,330C320,420,280,440,200,360" vector-effect="non-scaling-stroke"/><path transform="translate(571,0) scale(0.9963,1) translate(1.4,0)" d="M0,-303C-5,-202,0,-83,60,-28C140,35,290,-18,350,-184M355,-308C360,-202,370,-92,390,0" vector-effect="non-scaling-stroke"/><path transform="translate(1098,0) scale(1.0128,1) translate(-6.7,0)" d="M310,-294C180,-280,30,-193,8,-97C-5,-23,70,10,150,-11C240,-37,330,-106,405,-170M300,-303C380,-184,440,-55,528,-5" vector-effect="non-scaling-stroke"/><path transform="translate(1763,0) scale(1.0000,1) translate(-0.0,0)" d="M0,-285C5,-184,8,-92,10,0M8,-184C50,-276,120,-319,190,-308C250,-299,285,-262,300,-225" vector-effect="non-scaling-stroke"/><path transform="translate(2200,0) scale(1.0401,1) translate(-17.9,0)" d="M390,-267C300,-319,150,-303,60,-211C-10,-138,10,-18,100,-9C210,0,330,-101,400,-230M395,-682C385,-440,400,-202,465,0" vector-effect="non-scaling-stroke"/><path transform="translate(2802,0) scale(1.0128,1) translate(-6.7,0)" d="M310,-294C180,-280,30,-193,8,-97C-5,-23,70,10,150,-11C240,-37,330,-106,405,-170M300,-303C380,-184,440,-55,528,-5" vector-effect="non-scaling-stroke"/><path transform="translate(3467,0) scale(1.0401,1) translate(-17.9,0)" d="M390,-267C300,-319,150,-303,60,-211C-10,-138,10,-18,100,-9C210,0,330,-101,400,-230M395,-682C385,-440,400,-202,465,0" vector-effect="non-scaling-stroke"/><path transform="translate(4069,0) scale(1.0000,1) translate(-0.0,0)" d="M200,-308C80,-308,0,-230,0,-147C0,-55,80,0,195,0C320,0,400,-64,400,-161C400,-253,320,-308,200,-308Z" vector-effect="non-scaling-stroke"/></g>
<g transform="translate(142.03,516.70) scale(0.04505,0.04300)" fill="none" stroke="#4a9be9" stroke-width="3.60" stroke-linecap="round" stroke-linejoin="round"><path transform="translate(46,0) scale(1.0000,1) translate(-0.0,0)" d="M430,-470 C410,-550 310,-590 215,-570 C80,-530 0,-410 0,-265 C0,-90 120,0 285,0 C355,0 415,-15 470,-35" vector-effect="non-scaling-stroke"/><path transform="translate(673,0) scale(1.0000,1) translate(-0.0,0)" d="M20,-280C18,-184,25,-92,35,0M0,-472L40,-446" vector-effect="non-scaling-stroke"/><path transform="translate(880,0) scale(1.0000,1) translate(-0.0,0)" d="M330,-230C335,-290,260,-319,185,-308C75,-294,0,-211,0,-129C0,-41,85,0,200,0C260,0,310,-5,364,-18" vector-effect="non-scaling-stroke"/><path transform="translate(1421,0) scale(1.5078,1) translate(-8.5,0)" d="M10,-794C5,-483,12,-230,35,0" vector-effect="non-scaling-stroke"/><path transform="translate(1648,0) scale(1.0000,1) translate(-0.0,0)" d="M200,-308C80,-308,0,-230,0,-147C0,-55,80,0,195,0C320,0,400,-64,400,-161C400,-253,320,-308,200,-308Z" vector-effect="non-scaling-stroke"/></g>
<g transform="translate(260.27,516.70) scale(0.04192,0.04300)" fill="none" stroke="#4a9be9" stroke-width="3.60" stroke-linecap="round" stroke-linejoin="round"><path transform="translate(46,0) scale(1.0401,1) translate(-17.9,0)" d="M390,-267C300,-319,150,-303,60,-211C-10,-138,10,-18,100,-9C210,0,330,-101,400,-230M395,-682C385,-440,400,-202,465,0" vector-effect="non-scaling-stroke"/><path transform="translate(648,0) scale(1.0000,1) translate(-0.0,0)" d="M30,-115C150,-115,300,-138,385,-184C425,-257,345,-319,245,-313C105,-308,0,-211,0,-92C0,40,100,95,220,90C300,85,380,60,450,35" vector-effect="non-scaling-stroke"/><path transform="translate(1275,0) scale(1.5078,1) translate(-8.5,0)" d="M10,-794C5,-483,12,-230,35,0" vector-effect="non-scaling-stroke"/></g>
<g transform="translate(341.23,516.70) scale(0.04489,0.04300)" fill="none" stroke="#4a9be9" stroke-width="3.60" stroke-linecap="round" stroke-linejoin="round"><path transform="translate(46,0) scale(1.0000,1) translate(-0.0,0)" d="M140,0C130,-184,120,-409,130,-546C145,-684,240,-705,320,-631C360,-589,390,-557,418,-514M0,-319C130,-313,270,-299,418,-280" vector-effect="non-scaling-stroke"/><path transform="translate(601,0) scale(1.0000,1) translate(-0.0,0)" d="M200,-308C80,-308,0,-230,0,-147C0,-55,80,0,195,0C320,0,400,-64,400,-161C400,-253,320,-308,200,-308Z" vector-effect="non-scaling-stroke"/><path transform="translate(1138,0) scale(1.0000,1) translate(-0.0,0)" d="M0,-285C5,-184,8,-92,10,0M8,-184C50,-276,120,-319,190,-308C250,-299,285,-262,300,-225" vector-effect="non-scaling-stroke"/><path transform="translate(1575,0) scale(1.0000,1) translate(-0.0,0)" d="M0,-285C5,-193,5,-92,8,0M8,-221C45,-285,150,-313,180,-276C190,-184,190,-92,190,-9C235,-110,320,-285,390,-290C435,-276,460,-138,480,0" vector-effect="non-scaling-stroke"/><path transform="translate(2192,0) scale(0.9963,1) translate(1.4,0)" d="M0,-303C-5,-202,0,-83,60,-28C140,35,290,-18,350,-184M355,-308C360,-202,370,-92,390,0" vector-effect="non-scaling-stroke"/><path transform="translate(2759,0) scale(1.5078,1) translate(-8.5,0)" d="M10,-794C5,-483,12,-230,35,0" vector-effect="non-scaling-stroke"/><path transform="translate(2986,0) scale(1.0128,1) translate(-6.7,0)" d="M310,-294C180,-280,30,-193,8,-97C-5,-23,70,10,150,-11C240,-37,330,-106,405,-170M300,-303C380,-184,440,-55,528,-5" vector-effect="non-scaling-stroke"/><path transform="translate(3651,0) scale(1.0000,1) translate(-0.0,0)" d="M0,-285C5,-184,8,-92,10,0M8,-184C50,-276,120,-319,190,-308C250,-299,285,-262,300,-225" vector-effect="non-scaling-stroke"/><path transform="translate(4108,0) scale(1.0000,1) translate(-0.0,0)" d="M20,-280C18,-184,25,-92,35,0M0,-472L40,-446" vector-effect="non-scaling-stroke"/><path transform="translate(4315,0) scale(1.0000,1) translate(-0.0,0)" d="M200,-308C80,-308,0,-230,0,-147C0,-55,80,0,195,0C320,0,400,-64,400,-161C400,-253,320,-308,200,-308Z" vector-effect="non-scaling-stroke"/></g>
<g transform="translate(768.75,624.85) scale(0.04122,0.04000)" fill="none" stroke="#1e1e1e" stroke-width="3.50" stroke-linecap="round" stroke-linejoin="round"><path transform="translate(46,0) scale(1.0409,1) translate(-1.7,0)" d="M470,-562 C300,-520 60,-420 5,-216 C-20,-60 100,10 191,0 C350,-20 600,-150 679,-271 L218,-271 M679,-271 C650,-100 620,40 594,143" vector-effect="non-scaling-stroke"/><path transform="translate(888,0) scale(1.0000,1) translate(-0.0,0)" d="M0,-550 C160,-565 320,-575 480,-585 M10,-550 C10,-360 15,-180 20,-10 M20,-285 C160,-295 300,-305 450,-315 M20,-10 C180,-20 330,-30 500,-45" vector-effect="non-scaling-stroke"/><path transform="translate(1455,0) scale(1.0000,1) translate(-0.0,0)" d="M0,-490 C240,-530 500,-565 760,-590 M385,-545 C388,-360 388,-180 392,0" vector-effect="non-scaling-stroke"/></g>
<g transform="translate(883.86,624.85) scale(0.04103,0.04000)" fill="none" stroke="#1e1e1e" stroke-width="3.50" stroke-linecap="round" stroke-linejoin="round"><path transform="translate(46,0) scale(1.0000,1) translate(-0.0,0)" d="M0,-308C25,-221,70,-147,150,-92M390,-313C300,-138,200,150,110,440" vector-effect="non-scaling-stroke"/></g>
<g transform="translate(922.22,624.85) scale(0.04191,0.04000)" fill="none" stroke="#1e1e1e" stroke-width="3.50" stroke-linecap="round" stroke-linejoin="round"><path transform="translate(46,0) scale(1.0000,1) translate(-0.0,0)" d="M140,0C130,-184,120,-409,130,-546C145,-684,240,-705,320,-631C360,-589,390,-557,418,-514M0,-319C130,-313,270,-299,418,-280" vector-effect="non-scaling-stroke"/><path transform="translate(601,0) scale(1.0000,1) translate(-0.0,0)" d="M200,-308C80,-308,0,-230,0,-147C0,-55,80,0,195,0C320,0,400,-64,400,-161C400,-253,320,-308,200,-308Z" vector-effect="non-scaling-stroke"/><path transform="translate(1138,0) scale(1.0000,1) translate(-0.0,0)" d="M0,-285C5,-184,8,-92,10,0M8,-184C50,-276,120,-319,190,-308C250,-299,285,-262,300,-225" vector-effect="non-scaling-stroke"/><path transform="translate(1575,0) scale(1.0000,1) translate(-0.0,0)" d="M0,-285C5,-193,5,-92,8,0M8,-221C45,-285,150,-313,180,-276C190,-184,190,-92,190,-9C235,-110,320,-285,390,-290C435,-276,460,-138,480,0" vector-effect="non-scaling-stroke"/><path transform="translate(2192,0) scale(0.9963,1) translate(1.4,0)" d="M0,-303C-5,-202,0,-83,60,-28C140,35,290,-18,350,-184M355,-308C360,-202,370,-92,390,0" vector-effect="non-scaling-stroke"/><path transform="translate(2759,0) scale(1.5078,1) translate(-8.5,0)" d="M10,-794C5,-483,12,-230,35,0" vector-effect="non-scaling-stroke"/><path transform="translate(2986,0) scale(1.0128,1) translate(-6.7,0)" d="M310,-294C180,-280,30,-193,8,-97C-5,-23,70,10,150,-11C240,-37,330,-106,405,-170M300,-303C380,-184,440,-55,528,-5" vector-effect="non-scaling-stroke"/><path transform="translate(3651,0) scale(1.0000,1) translate(-0.0,0)" d="M0,-285C5,-184,8,-92,10,0M8,-184C50,-276,120,-319,190,-308C250,-299,285,-262,300,-225" vector-effect="non-scaling-stroke"/><path transform="translate(4108,0) scale(1.0000,1) translate(-0.0,0)" d="M20,-280C18,-184,25,-92,35,0M0,-472L40,-446" vector-effect="non-scaling-stroke"/><path transform="translate(4315,0) scale(1.0000,1) translate(-0.0,0)" d="M200,-308C80,-308,0,-230,0,-147C0,-55,80,0,195,0C320,0,400,-64,400,-161C400,-253,320,-308,200,-308Z" vector-effect="non-scaling-stroke"/></g>
<g transform="translate(1143.98,624.85) scale(0.04287,0.04000)" fill="none" stroke="#1e1e1e" stroke-width="3.50" stroke-linecap="round" stroke-linejoin="round"><path transform="translate(46,0) scale(1.0000,1) translate(-0.0,0)" d="M0,-308C50,-202,120,-74,190,0C260,-110,320,-221,400,-319" vector-effect="non-scaling-stroke"/><path transform="translate(583,0) scale(1.0128,1) translate(-6.7,0)" d="M310,-294C180,-280,30,-193,8,-97C-5,-23,70,10,150,-11C240,-37,330,-106,405,-170M300,-303C380,-184,440,-55,528,-5" vector-effect="non-scaling-stroke"/><path transform="translate(1248,0) scale(1.0000,1) translate(-0.0,0)" d="M330,-230C335,-290,260,-319,185,-308C75,-294,0,-211,0,-129C0,-41,85,0,200,0C260,0,310,-5,364,-18" vector-effect="non-scaling-stroke"/><path transform="translate(1749,0) scale(1.1818,1) translate(-20.0,0)" d="M30,-280C28,-184,35,-92,45,0M20,-398L130,-546" vector-effect="non-scaling-stroke"/><path transform="translate(2016,0) scale(1.0000,1) translate(-0.0,0)" d="M200,-308C80,-308,0,-230,0,-147C0,-55,80,0,195,0C320,0,400,-64,400,-161C400,-253,320,-308,200,-308Z" vector-effect="non-scaling-stroke"/></g>
<g transform="translate(758.27,796.85) scale(0.04084,0.04000)" fill="none" stroke="#1e1e1e" stroke-width="3.50" stroke-linecap="round" stroke-linejoin="round"><path transform="translate(46,0) scale(1.0690,1) translate(-0.0,0)" d="M30,-608 C20,-400 0,-200 10,0 M0,-590 C180,-560 420,-520 470,-440 C510,-350 320,-300 30,-270" vector-effect="non-scaling-stroke"/><path transform="translate(731,0) scale(1.0000,1) translate(-0.0,0)" d="M295,-570 C115,-570 0,-450 0,-280 C0,-100 115,0 285,0 C470,0 590,-110 590,-295 C590,-470 470,-570 295,-570 Z" vector-effect="non-scaling-stroke"/><path transform="translate(1458,0) scale(1.0301,1) translate(-0.0,0)" d="M465,-540 C350,-590 130,-580 50,-495 C0,-425 90,-360 225,-310 C405,-240 505,-150 435,-55 C355,30 110,20 0,-50" vector-effect="non-scaling-stroke"/><path transform="translate(2004,0) scale(1.0000,1) translate(-0.0,0)" d="M0,-490 C240,-530 500,-565 760,-590 M385,-545 C388,-360 388,-180 392,0" vector-effect="non-scaling-stroke"/></g>
<g transform="translate(894.38,796.85) scale(0.04289,0.04000)" fill="none" stroke="#1e1e1e" stroke-width="3.50" stroke-linecap="round" stroke-linejoin="round"><path transform="translate(46,0) scale(1.0000,1) translate(-0.0,0)" d="M330,-230C335,-290,260,-319,185,-308C75,-294,0,-211,0,-129C0,-41,85,0,200,0C260,0,310,-5,364,-18" vector-effect="non-scaling-stroke"/><path transform="translate(547,0) scale(1.0000,1) translate(-0.0,0)" d="M200,-308C80,-308,0,-230,0,-147C0,-55,80,0,195,0C320,0,400,-64,400,-161C400,-253,320,-308,200,-308Z" vector-effect="non-scaling-stroke"/><path transform="translate(1084,0) scale(1.0000,1) translate(-0.0,0)" d="M0,-294C5,-202,5,-92,8,0M8,-202C60,-294,250,-324,290,-239C310,-156,318,-74,326,0" vector-effect="non-scaling-stroke"/></g>
<g transform="translate(978.77,796.85) scale(0.04091,0.04000)" fill="none" stroke="#1e1e1e" stroke-width="3.50" stroke-linecap="round" stroke-linejoin="round"><path transform="translate(46,0) scale(1.0000,1) translate(-0.0,0)" d="M0,-285C5,-184,8,-92,10,0M8,-184C50,-276,120,-319,190,-308C250,-299,285,-262,300,-225" vector-effect="non-scaling-stroke"/><path transform="translate(483,0) scale(1.0000,1) translate(-0.0,0)" d="M30,-115C150,-115,300,-138,385,-184C425,-257,345,-319,245,-313C105,-308,0,-211,0,-92C0,40,100,95,220,90C300,85,380,60,450,35" vector-effect="non-scaling-stroke"/><path transform="translate(1070,0) scale(1.0637,1) translate(-25.8,0)" d="M330,-276C250,-324,130,-303,60,-211C0,-129,20,-18,110,-9C210,0,320,-129,360,-276M365,-294C360,-92,345,150,345,330C355,400,395,425,430,435" vector-effect="non-scaling-stroke"/><path transform="translate(1637,0) scale(0.9963,1) translate(1.4,0)" d="M0,-303C-5,-202,0,-83,60,-28C140,35,290,-18,350,-184M355,-308C360,-202,370,-92,390,0" vector-effect="non-scaling-stroke"/><path transform="translate(2164,0) scale(1.0000,1) translate(-0.0,0)" d="M30,-115C150,-115,300,-138,385,-184C425,-257,345,-319,245,-313C105,-308,0,-211,0,-92C0,40,100,95,220,90C300,85,380,60,450,35" vector-effect="non-scaling-stroke"/><path transform="translate(2751,0) scale(1.0556,1) translate(-5.0,0)" d="M365,-276C290,-319,150,-324,60,-276C0,-239,35,-193,115,-165L280,-115C385,-78,375,-14,245,0C160,10,80,0,5,-32" vector-effect="non-scaling-stroke"/><path transform="translate(3198,0) scale(1.0000,1) translate(-0.0,0)" d="M187,-582C180,-377,180,-138,200,-46C215,10,330,0,440,-83M0,-366C150,-387,300,-419,447,-435" vector-effect="non-scaling-stroke"/><path transform="translate(3872,0) scale(1.0980,1) translate(-3.0,0)" d="M15,-55 C40,-60 65,-40 62,-15 C55,10 15,8 5,-15 C0,-35 5,-50 15,-55 Z" vector-effect="non-scaling-stroke"/><path transform="translate(4114,0) scale(1.0690,1) translate(-0.0,0)" d="M30,-608 C20,-400 0,-200 10,0 M0,-590 C180,-560 420,-520 470,-440 C510,-350 320,-300 30,-270" vector-effect="non-scaling-stroke"/><path transform="translate(4799,0) scale(1.0000,1) translate(-0.0,0)" d="M295,-570 C115,-570 0,-450 0,-280 C0,-100 115,0 285,0 C470,0 590,-110 590,-295 C590,-470 470,-570 295,-570 Z" vector-effect="non-scaling-stroke"/><path transform="translate(5526,0) scale(1.0301,1) translate(-0.0,0)" d="M465,-540 C350,-590 130,-580 50,-495 C0,-425 90,-360 225,-310 C405,-240 505,-150 435,-55 C355,30 110,20 0,-50" vector-effect="non-scaling-stroke"/><path transform="translate(6072,0) scale(1.0000,1) translate(-0.0,0)" d="M0,-490 C240,-530 500,-565 760,-590 M385,-545 C388,-360 388,-180 392,0" vector-effect="non-scaling-stroke"/></g>
<g transform="translate(899.21,968.55) scale(0.03998,0.04000)" fill="none" stroke="#1e1e1e" stroke-width="3.50" stroke-linecap="round" stroke-linejoin="round"><path transform="translate(46,0) scale(1.0400,1) translate(-0.0,0)" d="M25,-528 C22,-350 25,-170 30,0 M0,-528 C170,-560 340,-590 500,-618 M25,-220 C130,-240 250,-270 390,-300" vector-effect="non-scaling-stroke"/><path transform="translate(703,0) scale(1.0000,1) translate(-0.0,0)" d="M200,-308C80,-308,0,-230,0,-147C0,-55,80,0,195,0C320,0,400,-64,400,-161C400,-253,320,-308,200,-308Z" vector-effect="non-scaling-stroke"/><path transform="translate(1240,0) scale(1.0000,1) translate(-0.0,0)" d="M0,-285C5,-184,8,-92,10,0M8,-184C50,-276,120,-319,190,-308C250,-299,285,-262,300,-225" vector-effect="non-scaling-stroke"/><path transform="translate(1677,0) scale(1.0000,1) translate(-0.0,0)" d="M0,-285C5,-193,5,-92,8,0M8,-221C45,-285,150,-313,180,-276C190,-184,190,-92,190,-9C235,-110,320,-285,390,-290C435,-276,460,-138,480,0" vector-effect="non-scaling-stroke"/></g>
<g transform="translate(1010.51,968.55) scale(0.04219,0.04000)" fill="none" stroke="#1e1e1e" stroke-width="3.50" stroke-linecap="round" stroke-linejoin="round"><path transform="translate(46,0) scale(1.0460,1) translate(-10.0,0)" d="M10,-682C10,-430,15,-202,30,0M25,-156C80,-285,260,-324,340,-211C385,-120,320,-9,190,-5C110,0,60,-14,25,-37" vector-effect="non-scaling-stroke"/><path transform="translate(543,0) scale(1.0000,1) translate(-0.0,0)" d="M200,-308C80,-308,0,-230,0,-147C0,-55,80,0,195,0C320,0,400,-64,400,-161C400,-253,320,-308,200,-308Z" vector-effect="non-scaling-stroke"/><path transform="translate(1080,0) scale(0.9963,1) translate(1.4,0)" d="M0,-303C-5,-202,0,-83,60,-28C140,35,290,-18,350,-184M355,-308C360,-202,370,-92,390,0" vector-effect="non-scaling-stroke"/><path transform="translate(1607,0) scale(1.0000,1) translate(-0.0,0)" d="M0,-294C5,-202,5,-92,8,0M8,-202C60,-294,250,-324,290,-239C310,-156,318,-74,326,0" vector-effect="non-scaling-stroke"/><path transform="translate(2070,0) scale(1.0401,1) translate(-17.9,0)" d="M390,-267C300,-319,150,-303,60,-211C-10,-138,10,-18,100,-9C210,0,330,-101,400,-230M395,-682C385,-440,400,-202,465,0" vector-effect="non-scaling-stroke"/></g>
<g transform="translate(913.82,1139.25) scale(0.04185,0.04000)" fill="none" stroke="#1e1e1e" stroke-width="3.50" stroke-linecap="round" stroke-linejoin="round"><path transform="translate(46,0) scale(1.0000,1) translate(-0.0,0)" d="M20,-280C18,-184,25,-92,35,0M0,-472L40,-446" vector-effect="non-scaling-stroke"/><path transform="translate(253,0) scale(1.0556,1) translate(-5.0,0)" d="M365,-276C290,-319,150,-324,60,-276C0,-239,35,-193,115,-165L280,-115C385,-78,375,-14,245,0C160,10,80,0,5,-32" vector-effect="non-scaling-stroke"/><path transform="translate(770,0) scale(1.0000,1) translate(-0.0,0)" d="M0,40 C250,35 500,25 760,10" vector-effect="non-scaling-stroke"/><path transform="translate(1667,0) scale(1.0000,1) translate(-0.0,0)" d="M0,-308C50,-202,120,-74,190,0C260,-110,320,-221,400,-319" vector-effect="non-scaling-stroke"/><path transform="translate(2204,0) scale(1.0128,1) translate(-6.7,0)" d="M310,-294C180,-280,30,-193,8,-97C-5,-23,70,10,150,-11C240,-37,330,-106,405,-170M300,-303C380,-184,440,-55,528,-5" vector-effect="non-scaling-stroke"/><path transform="translate(2909,0) scale(1.5078,1) translate(-8.5,0)" d="M10,-794C5,-483,12,-230,35,0" vector-effect="non-scaling-stroke"/><path transform="translate(3156,0) scale(1.0000,1) translate(-0.0,0)" d="M20,-280C18,-184,25,-92,35,0M0,-472L40,-446" vector-effect="non-scaling-stroke"/><path transform="translate(3363,0) scale(1.0401,1) translate(-17.9,0)" d="M390,-267C300,-319,150,-303,60,-211C-10,-138,10,-18,100,-9C210,0,330,-101,400,-230M395,-682C385,-440,400,-202,465,0" vector-effect="non-scaling-stroke"/><path transform="translate(3965,0) scale(1.0473,1) translate(-9.0,0)" d="M200,-760 C60,-620 0,-440 10,-260 C20,-100 100,20 200,80" vector-effect="non-scaling-stroke"/><path transform="translate(4302,0) scale(1.0473,1) translate(-0.0,0)" d="M0,-760 C140,-620 200,-440 190,-260 C180,-100 100,20 0,80" vector-effect="non-scaling-stroke"/></g>
<g transform="translate(808.63,1311.85) scale(0.04177,0.04000)" fill="none" stroke="#1e1e1e" stroke-width="3.50" stroke-linecap="round" stroke-linejoin="round"><path transform="translate(46,0) scale(1.0000,1) translate(-0.0,0)" d="M0,-550 C160,-565 320,-575 480,-585 M10,-550 C10,-360 15,-180 20,-10 M20,-285 C160,-295 300,-305 450,-315 M20,-10 C180,-20 330,-30 500,-45" vector-effect="non-scaling-stroke"/><path transform="translate(683,0) scale(1.0000,1) translate(-0.0,0)" d="M0,-285C5,-184,8,-92,10,0M8,-184C50,-276,120,-319,190,-308C250,-299,285,-262,300,-225" vector-effect="non-scaling-stroke"/><path transform="translate(1120,0) scale(1.0000,1) translate(-0.0,0)" d="M0,-285C5,-184,8,-92,10,0M8,-184C50,-276,120,-319,190,-308C250,-299,285,-262,300,-225" vector-effect="non-scaling-stroke"/><path transform="translate(1557,0) scale(1.0000,1) translate(-0.0,0)" d="M200,-308C80,-308,0,-230,0,-147C0,-55,80,0,195,0C320,0,400,-64,400,-161C400,-253,320,-308,200,-308Z" vector-effect="non-scaling-stroke"/><path transform="translate(2094,0) scale(1.0000,1) translate(-0.0,0)" d="M0,-285C5,-184,8,-92,10,0M8,-184C50,-276,120,-319,190,-308C250,-299,285,-262,300,-225" vector-effect="non-scaling-stroke"/><path transform="translate(2531,0) scale(1.0000,1) translate(-0.0,0)" d="M30,-115C150,-115,300,-138,385,-184C425,-257,345,-319,245,-313C105,-308,0,-211,0,-92C0,40,100,95,220,90C300,85,380,60,450,35" vector-effect="non-scaling-stroke"/><path transform="translate(3118,0) scale(1.0556,1) translate(-5.0,0)" d="M365,-276C290,-319,150,-324,60,-276C0,-239,35,-193,115,-165L280,-115C385,-78,375,-14,245,0C160,10,80,0,5,-32" vector-effect="non-scaling-stroke"/></g>
<g transform="translate(980.04,1311.85) scale(0.04150,0.04000)" fill="none" stroke="#1e1e1e" stroke-width="3.50" stroke-linecap="round" stroke-linejoin="round"><path transform="translate(46,0) scale(1.0000,1) translate(-0.0,0)" d="M200,-308C80,-308,0,-230,0,-147C0,-55,80,0,195,0C320,0,400,-64,400,-161C400,-253,320,-308,200,-308Z" vector-effect="non-scaling-stroke"/></g>
<g transform="translate(1023.86,1311.85) scale(0.04108,0.04000)" fill="none" stroke="#1e1e1e" stroke-width="3.50" stroke-linecap="round" stroke-linejoin="round"><path transform="translate(46,0) scale(1.1135,1) translate(-25.8,0)" d="M330,-276C250,-324,130,-303,60,-211C0,-129,20,-18,110,-9C210,0,320,-129,360,-276M365,-294C380,-138,380,100,340,330C320,420,280,440,200,360" vector-effect="non-scaling-stroke"/><path transform="translate(571,0) scale(0.9963,1) translate(1.4,0)" d="M0,-303C-5,-202,0,-83,60,-28C140,35,290,-18,350,-184M355,-308C360,-202,370,-92,390,0" vector-effect="non-scaling-stroke"/><path transform="translate(1098,0) scale(1.0128,1) translate(-6.7,0)" d="M310,-294C180,-280,30,-193,8,-97C-5,-23,70,10,150,-11C240,-37,330,-106,405,-170M300,-303C380,-184,440,-55,528,-5" vector-effect="non-scaling-stroke"/><path transform="translate(1763,0) scale(1.0000,1) translate(-0.0,0)" d="M0,-285C5,-184,8,-92,10,0M8,-184C50,-276,120,-319,190,-308C250,-299,285,-262,300,-225" vector-effect="non-scaling-stroke"/><path transform="translate(2200,0) scale(1.0401,1) translate(-17.9,0)" d="M390,-267C300,-319,150,-303,60,-211C-10,-138,10,-18,100,-9C210,0,330,-101,400,-230M395,-682C385,-440,400,-202,465,0" vector-effect="non-scaling-stroke"/><path transform="translate(2802,0) scale(1.0128,1) translate(-6.7,0)" d="M310,-294C180,-280,30,-193,8,-97C-5,-23,70,10,150,-11C240,-37,330,-106,405,-170M300,-303C380,-184,440,-55,528,-5" vector-effect="non-scaling-stroke"/><path transform="translate(3467,0) scale(1.0401,1) translate(-17.9,0)" d="M390,-267C300,-319,150,-303,60,-211C-10,-138,10,-18,100,-9C210,0,330,-101,400,-230M395,-682C385,-440,400,-202,465,0" vector-effect="non-scaling-stroke"/><path transform="translate(4069,0) scale(1.0000,1) translate(-0.0,0)" d="M200,-308C80,-308,0,-230,0,-147C0,-55,80,0,195,0C320,0,400,-64,400,-161C400,-253,320,-308,200,-308Z" vector-effect="non-scaling-stroke"/></g>
<g transform="translate(262.69,1548.10) scale(0.03494,0.03650)" fill="none" stroke="#1e1e1e" stroke-width="3.20" stroke-linecap="round" stroke-linejoin="round"><path transform="translate(46,0) scale(1.0000,1) translate(-0.0,0)" d="M330,-230C335,-290,260,-319,185,-308C75,-294,0,-211,0,-129C0,-41,85,0,200,0C260,0,310,-5,364,-18" vector-effect="non-scaling-stroke"/><path transform="translate(587,0) scale(1.5078,1) translate(-8.5,0)" d="M10,-794C5,-483,12,-230,35,0" vector-effect="non-scaling-stroke"/><path transform="translate(814,0) scale(1.0000,1) translate(-0.0,0)" d="M30,-115C150,-115,300,-138,385,-184C425,-257,345,-319,245,-313C105,-308,0,-211,0,-92C0,40,100,95,220,90C300,85,380,60,450,35" vector-effect="non-scaling-stroke"/><path transform="translate(1401,0) scale(1.0128,1) translate(-6.7,0)" d="M310,-294C180,-280,30,-193,8,-97C-5,-23,70,10,150,-11C240,-37,330,-106,405,-170M300,-303C380,-184,440,-55,528,-5" vector-effect="non-scaling-stroke"/><path transform="translate(2066,0) scale(1.0000,1) translate(-0.0,0)" d="M0,-294C5,-202,5,-92,8,0M8,-202C60,-294,250,-324,290,-239C310,-156,318,-74,326,0" vector-effect="non-scaling-stroke"/><path transform="translate(2529,0) scale(1.0000,1) translate(-0.0,0)" d="M30,-115C150,-115,300,-138,385,-184C425,-257,345,-319,245,-313C105,-308,0,-211,0,-92C0,40,100,95,220,90C300,85,380,60,450,35" vector-effect="non-scaling-stroke"/><path transform="translate(3116,0) scale(1.0401,1) translate(-17.9,0)" d="M390,-267C300,-319,150,-303,60,-211C-10,-138,10,-18,100,-9C210,0,330,-101,400,-230M395,-682C385,-440,400,-202,465,0" vector-effect="non-scaling-stroke"/><path transform="translate(3718,0) scale(1.0000,1) translate(-0.0,0)" d="M0,40 C250,35 500,25 760,10" vector-effect="non-scaling-stroke"/><path transform="translate(4615,0) scale(1.0401,1) translate(-17.9,0)" d="M390,-267C300,-319,150,-303,60,-211C-10,-138,10,-18,100,-9C210,0,330,-101,400,-230M395,-682C385,-440,400,-202,465,0" vector-effect="non-scaling-stroke"/><path transform="translate(5217,0) scale(1.0128,1) translate(-6.7,0)" d="M310,-294C180,-280,30,-193,8,-97C-5,-23,70,10,150,-11C240,-37,330,-106,405,-170M300,-303C380,-184,440,-55,528,-5" vector-effect="non-scaling-stroke"/><path transform="translate(5812,0) scale(1.0000,1) translate(-0.0,0)" d="M187,-582C180,-377,180,-138,200,-46C215,10,330,0,440,-83M0,-366C150,-387,300,-419,447,-435" vector-effect="non-scaling-stroke"/><path transform="translate(6456,0) scale(1.0128,1) translate(-6.7,0)" d="M310,-294C180,-280,30,-193,8,-97C-5,-23,70,10,150,-11C240,-37,330,-106,405,-170M300,-303C380,-184,440,-55,528,-5" vector-effect="non-scaling-stroke"/></g>
<g transform="translate(911.94,1546.90) scale(0.03613,0.03650)" fill="none" stroke="#1e1e1e" stroke-width="3.20" stroke-linecap="round" stroke-linejoin="round"><path transform="translate(46,0) scale(1.0000,1) translate(-0.0,0)" d="M140,0C130,-184,120,-409,130,-546C145,-684,240,-705,320,-631C360,-589,390,-557,418,-514M0,-319C130,-313,270,-299,418,-280" vector-effect="non-scaling-stroke"/><path transform="translate(601,0) scale(1.0000,1) translate(-0.0,0)" d="M200,-308C80,-308,0,-230,0,-147C0,-55,80,0,195,0C320,0,400,-64,400,-161C400,-253,320,-308,200,-308Z" vector-effect="non-scaling-stroke"/><path transform="translate(1138,0) scale(1.0000,1) translate(-0.0,0)" d="M0,-285C5,-184,8,-92,10,0M8,-184C50,-276,120,-319,190,-308C250,-299,285,-262,300,-225" vector-effect="non-scaling-stroke"/><path transform="translate(1575,0) scale(1.0000,1) translate(-0.0,0)" d="M0,-285C5,-193,5,-92,8,0M8,-221C45,-285,150,-313,180,-276C190,-184,190,-92,190,-9C235,-110,320,-285,390,-290C435,-276,460,-138,480,0" vector-effect="non-scaling-stroke"/><path transform="translate(2222,0) scale(1.0980,1) translate(-3.0,0)" d="M15,-55 C40,-60 65,-40 62,-15 C55,10 15,8 5,-15 C0,-35 5,-50 15,-55 Z" vector-effect="non-scaling-stroke"/><path transform="translate(2424,0) scale(1.0000,1) translate(-0.0,0)" d="M30,-115C150,-115,300,-138,385,-184C425,-257,345,-319,245,-313C105,-308,0,-211,0,-92C0,40,100,95,220,90C300,85,380,60,450,35" vector-effect="non-scaling-stroke"/><path transform="translate(3011,0) scale(1.0000,1) translate(-0.0,0)" d="M0,-285C5,-184,8,-92,10,0M8,-184C50,-276,120,-319,190,-308C250,-299,285,-262,300,-225" vector-effect="non-scaling-stroke"/><path transform="translate(3448,0) scale(1.0000,1) translate(-0.0,0)" d="M0,-285C5,-184,8,-92,10,0M8,-184C50,-276,120,-319,190,-308C250,-299,285,-262,300,-225" vector-effect="non-scaling-stroke"/><path transform="translate(3885,0) scale(1.0000,1) translate(-0.0,0)" d="M200,-308C80,-308,0,-230,0,-147C0,-55,80,0,195,0C320,0,400,-64,400,-161C400,-253,320,-308,200,-308Z" vector-effect="non-scaling-stroke"/><path transform="translate(4422,0) scale(1.0000,1) translate(-0.0,0)" d="M0,-285C5,-184,8,-92,10,0M8,-184C50,-276,120,-319,190,-308C250,-299,285,-262,300,-225" vector-effect="non-scaling-stroke"/><path transform="translate(4859,0) scale(1.0556,1) translate(-5.0,0)" d="M365,-276C290,-319,150,-324,60,-276C0,-239,35,-193,115,-165L280,-115C385,-78,375,-14,245,0C160,10,80,0,5,-32" vector-effect="non-scaling-stroke"/></g>
<g transform="translate(1560.98,1547.00) scale(0.03523,0.03650)" fill="none" stroke="#1e1e1e" stroke-width="3.20" stroke-linecap="round" stroke-linejoin="round"><path transform="translate(46,0) scale(1.0000,1) translate(-0.0,0)" d="M0,-285C5,-184,8,-92,10,0M8,-184C50,-276,120,-319,190,-308C250,-299,285,-262,300,-225" vector-effect="non-scaling-stroke"/><path transform="translate(483,0) scale(1.0000,1) translate(-0.0,0)" d="M30,-115C150,-115,300,-138,385,-184C425,-257,345,-319,245,-313C105,-308,0,-211,0,-92C0,40,100,95,220,90C300,85,380,60,450,35" vector-effect="non-scaling-stroke"/><path transform="translate(1070,0) scale(1.0401,1) translate(-17.9,0)" d="M390,-267C300,-319,150,-303,60,-211C-10,-138,10,-18,100,-9C210,0,330,-101,400,-230M395,-682C385,-440,400,-202,465,0" vector-effect="non-scaling-stroke"/><path transform="translate(1692,0) scale(1.0000,1) translate(-0.0,0)" d="M20,-280C18,-184,25,-92,35,0M0,-472L40,-446" vector-effect="non-scaling-stroke"/><path transform="translate(1899,0) scale(1.0000,1) translate(-0.0,0)" d="M0,-285C5,-184,8,-92,10,0M8,-184C50,-276,120,-319,190,-308C250,-299,285,-262,300,-225" vector-effect="non-scaling-stroke"/><path transform="translate(2336,0) scale(1.0000,1) translate(-0.0,0)" d="M30,-115C150,-115,300,-138,385,-184C425,-257,345,-319,245,-313C105,-308,0,-211,0,-92C0,40,100,95,220,90C300,85,380,60,450,35" vector-effect="non-scaling-stroke"/><path transform="translate(2923,0) scale(1.0000,1) translate(-0.0,0)" d="M330,-230C335,-290,260,-319,185,-308C75,-294,0,-211,0,-129C0,-41,85,0,200,0C260,0,310,-5,364,-18" vector-effect="non-scaling-stroke"/><path transform="translate(3354,0) scale(1.0000,1) translate(-0.0,0)" d="M187,-582C180,-377,180,-138,200,-46C215,10,330,0,440,-83M0,-366C150,-387,300,-419,447,-435" vector-effect="non-scaling-stroke"/></g>
</svg>
</body></html>
